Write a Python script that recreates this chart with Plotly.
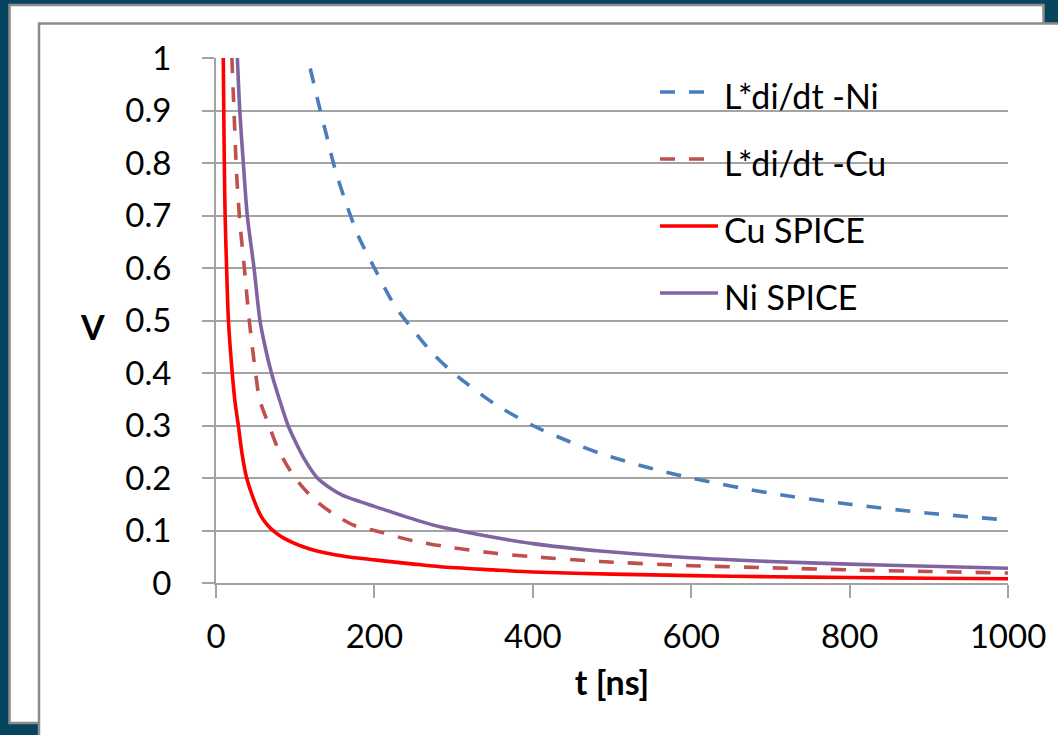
import plotly.graph_objects as go

# Time axis samples [ns] and voltages [V] for each curve
t_ni_ldidt = [119, 130, 140, 150, 165, 180, 200, 225, 250, 275, 300, 350, 400, 450, 485,
              550, 600, 700, 800, 900, 1000]
v_ni_ldidt = [0.98, 0.91, 0.85, 0.79, 0.72, 0.66, 0.6, 0.53, 0.48, 0.435, 0.4, 0.343, 0.3,
              0.267, 0.247, 0.218, 0.2, 0.171, 0.15, 0.133, 0.12]

t_cu_ldidt = [20, 22.7, 26, 30, 35.8, 42, 50, 55, 67, 80, 100, 125, 150, 177, 200, 250, 300,
              350, 400, 485, 600, 700, 800, 900, 1000]
v_cu_ldidt = [1.0, 0.9, 0.78, 0.69, 0.6, 0.5, 0.4, 0.35, 0.3, 0.25, 0.2, 0.158, 0.13, 0.108,
              0.1, 0.08, 0.067, 0.057, 0.05, 0.041, 0.033, 0.029, 0.025, 0.022, 0.019]

t_cu_spice = [9.2, 9.8, 10.5, 11.5, 13.4, 15.7, 20.5, 24, 28.2, 33, 38.7, 45, 51.3, 57, 63,
              69, 76, 85, 97, 110, 125, 150, 182, 200, 250, 283, 350, 400, 500, 600, 700,
              800, 900, 1000]
v_cu_spice = [1.0, 0.9, 0.8, 0.7, 0.6, 0.5, 0.4, 0.345, 0.3, 0.245, 0.2, 0.17, 0.145, 0.127,
              0.114, 0.104, 0.095, 0.086, 0.077, 0.069, 0.062, 0.054, 0.047, 0.044, 0.036,
              0.031, 0.025, 0.021, 0.017, 0.014, 0.012, 0.0105, 0.009, 0.008]

t_ni_spice = [27, 30, 34.5, 39.5, 48, 55.5, 62, 70, 80, 91, 100, 112, 128, 145, 160, 182,
              200, 240, 283, 340, 400, 485, 600, 700, 800, 900, 1000]
v_ni_spice = [1.0, 0.9, 0.8, 0.7, 0.6, 0.5, 0.45, 0.4, 0.35, 0.3, 0.27, 0.235, 0.2, 0.18,
              0.167, 0.155, 0.146, 0.126, 0.107, 0.09, 0.075, 0.061, 0.048, 0.041, 0.036,
              0.032, 0.028]

series_names = ["L*di/dt -Ni", "L*di/dt -Cu", "Cu SPICE", "Ni SPICE"]
x_ticks = [0, 200, 400, 600, 800, 1000]
y_ticks = [0, 0.1, 0.2, 0.3, 0.4, 0.5, 0.6, 0.7, 0.8, 0.9, 1]
y_tick_text = ["0", "0.1", "0.2", "0.3", "0.4", "0.5", "0.6", "0.7", "0.8", "0.9", "1"]

W, H = 1058, 735
ML, MR, MT, MB = 216, 50, 58, 152
PW, PH = W - ML - MR, H - MT - MB

FONT = "Lato"
GRID = "#a3a3a3"
DASH = "15px,14px"


def px_x(px):
    return (px - ML) / PW


def px_y(py):
    return (H - MB - py) / PH


fig = go.Figure()

styles = [
    (t_ni_ldidt, v_ni_ldidt, "#4a7ebb", DASH),
    (t_cu_ldidt, v_cu_ldidt, "#c0504d", DASH),
    (t_cu_spice, v_cu_spice, "#ff0000", "solid"),
    (t_ni_spice, v_ni_spice, "#8064a2", "solid"),
]
for i, (tx, vy, col, dash) in enumerate(styles):
    fig.add_trace(go.Scatter(
        x=tx, y=vy, mode="lines", name=series_names[i], showlegend=False,
        line=dict(color=col, width=3.6, dash=dash, shape="spline", smoothing=0.8),
    ))

# Slide-style framed panels behind the chart
fig.add_shape(type="rect", xref="paper", yref="paper", layer="below",
              x0=px_x(9.5), x1=px_x(1043.5), y0=px_y(723), y1=px_y(5),
              fillcolor="white", line=dict(color="#8c8c8c", width=2.5))
fig.add_shape(type="rect", xref="paper", yref="paper", layer="below",
              x0=px_x(39), x1=px_x(1090), y0=px_y(760), y1=px_y(23.5),
              fillcolor="white", line=dict(color="#8c8c8c", width=2.5))

# Legend: sample line + label for each series
legend_rows = [92, 159, 226, 293]
for (_, _, col, dash), name, row in zip(styles, series_names, legend_rows):
    fig.add_shape(type="line", xref="paper", yref="paper",
                  x0=px_x(660), x1=px_x(718 if dash == "solid" else 705),
                  y0=px_y(row), y1=px_y(row),
                  line=dict(color=col, width=3.6, dash=dash))
    fig.add_annotation(text=name, xref="paper", yref="paper", x=px_x(722), y=px_y(row + 3),
                       showarrow=False, xanchor="left", yanchor="middle",
                       font=dict(family=FONT, size=34, color="black"))

fig.add_annotation(text="<b>V</b>", xref="paper", yref="paper", x=px_x(92), y=px_y(326),
                   showarrow=False, font=dict(family=FONT, size=34, color="black"),
                   xanchor="center", yanchor="middle")

fig.update_layout(
    width=W, height=H,
    margin=dict(l=ML, r=MR, t=MT, b=MB),
    paper_bgcolor="#07455f",
    plot_bgcolor="rgba(0,0,0,0)",
    font=dict(family=FONT, size=33, color="black"),
    showlegend=False,
    xaxis=dict(range=[0, 1000], tickvals=x_ticks, showgrid=False, zeroline=False,
               showline=True, linecolor=GRID, linewidth=2,
               ticks="outside", ticklen=13, tickwidth=2, tickcolor=GRID,
               ticklabelstandoff=10,
               title=dict(text="<b>t [ns]</b>", font=dict(family=FONT, size=34), standoff=18)),
    yaxis=dict(range=[0, 1], tickvals=y_ticks, ticktext=y_tick_text, showgrid=True,
               gridcolor=GRID, gridwidth=2, zeroline=False,
               showline=True, linecolor=GRID, linewidth=2,
               ticks="outside", ticklen=12, tickwidth=2, tickcolor=GRID,
               ticklabelstandoff=24),
)

fig.write_html("out.html")
